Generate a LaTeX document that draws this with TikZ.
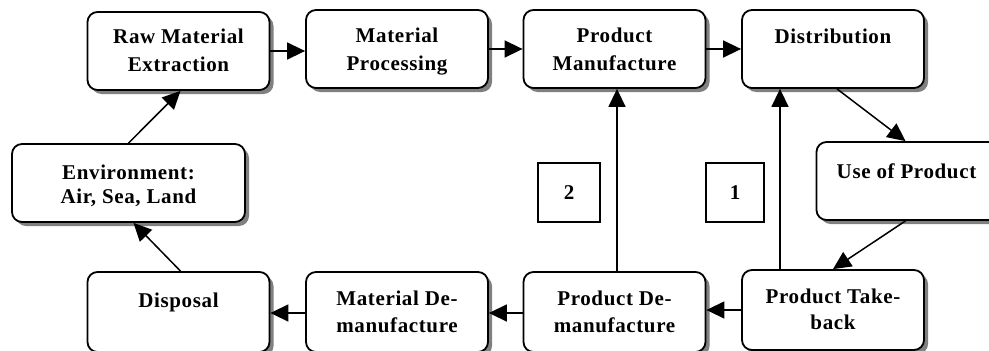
\documentclass[tikz,border=0pt]{standalone}
\usepackage{fontspec}
\setmainfont{Liberation Serif}
\usetikzlibrary{shadows,arrows.meta}
\begin{document}
\begin{tikzpicture}[x=1pt,y=-1pt,
  box/.style={draw=black, line width=1.8pt, rounded corners=10pt, fill=white,
    minimum width=182pt, minimum height=78pt, inner sep=0pt,
    drop shadow={shadow xshift=4pt, shadow yshift=-4pt, fill=black!50, opacity=1}},
  txt/.style={anchor=base, align=center, inner sep=0pt,
    font=\fontsize{21}{28}\selectfont\bfseries\addfontfeatures{LetterSpace=3}},
  numbox/.style={draw=black, line width=1.5pt, minimum height=59pt, inner sep=0pt,
    font=\fontsize{21}{26}\selectfont\bfseries},
  arr/.style={line width=1.5pt, -{Triangle[length=18pt,width=17pt]}}]
\useasboundingbox (0,0) rectangle (989,351);
\clip (0,0) rectangle (989,351);
% boxes
\node[box] (raw)  at (178.5,51) {};
\node[box] (mp)   at (397,49) {};
\node[box] (pm)   at (614.5,49) {};
\node[box] (dist) at (833,49) {};
\node[box] (use)  at (907.5,181) {};
\node[box, minimum width=233pt] (env) at (128.5,183) {};
\node[box, minimum height=80pt] (disp) at (178.5,312) {};
\node[box, minimum height=80pt] (md)   at (397,312) {};
\node[box, minimum height=80pt] (pd)   at (614.5,312) {};
\node[box, minimum height=80pt] (tb)   at (833,310) {};
% texts (anchor = baseline of the last line)
\node[txt] (traw)  at (178.5,71) {Raw Material\\Extraction};
\node[txt] (tmp)   at (397,70) {Material\\Processing};
\node[txt] (tpm)   at (614.5,70) {Product\\Manufacture};
\node[txt] (tdist) at (833,43) {Distribution};
\node[txt] (tuse)  at (906.5,178) {Use of Product};
\node[txt, font=\fontsize{21}{24}\selectfont\bfseries\addfontfeatures{LetterSpace=3}] (tenv) at (128.5,203) {Environment:\\Air, Sea, Land};
\node[txt] (tdisp) at (178.5,307) {Disposal};
\node[txt, font=\fontsize{21}{27}\selectfont\bfseries\addfontfeatures{LetterSpace=3}] (tmd) at (397,332) {Material De-\\manufacture};
\node[txt, font=\fontsize{21}{27}\selectfont\bfseries\addfontfeatures{LetterSpace=3}] (tpd) at (614.5,332) {Product De-\\manufacture};
\node[txt, font=\fontsize{21}{26}\selectfont\bfseries\addfontfeatures{LetterSpace=3}] (ttb) at (833,329) {Product Take-\\back};
% number boxes
\node[numbox, minimum width=62pt] (n2) at (569,192.5) {2};
\node[numbox, minimum width=58pt] (n1) at (735,192.5) {1};
% connectors
\draw[arr] (raw.east) -- (raw.east -| mp.west);
\draw[arr] (mp.east) -- (mp.east -| pm.west);
\draw[arr] (pm.east) -- (pm.east -| dist.west);
\draw[arr] ([xshift=4pt]dist.south) -- ([xshift=-2pt]use.north);
\draw[arr] ([xshift=-2pt]use.south) -- (tb.north);
\draw[arr] (tb.west) -- (tb.west -| pd.east);
\draw[arr] ([yshift=-1pt]pd.west) -- ([yshift=-1pt]pd.west -| md.east);
\draw[arr] ([yshift=-1pt]md.west) -- ([yshift=-1pt]md.west -| disp.east);
\draw[arr] ([xshift=2pt]disp.north) -- ([xshift=5pt]env.south);
\draw[arr] (env.north) -- ([xshift=2pt]raw.south);
\draw[arr] ([xshift=2.5pt]pd.north) -- ([xshift=2.5pt]pd.north |- pm.south);
\draw[arr] ([xshift=-53pt]tb.north) -- ([xshift=-53pt]tb.north |- dist.south);
\end{tikzpicture}
\end{document}
